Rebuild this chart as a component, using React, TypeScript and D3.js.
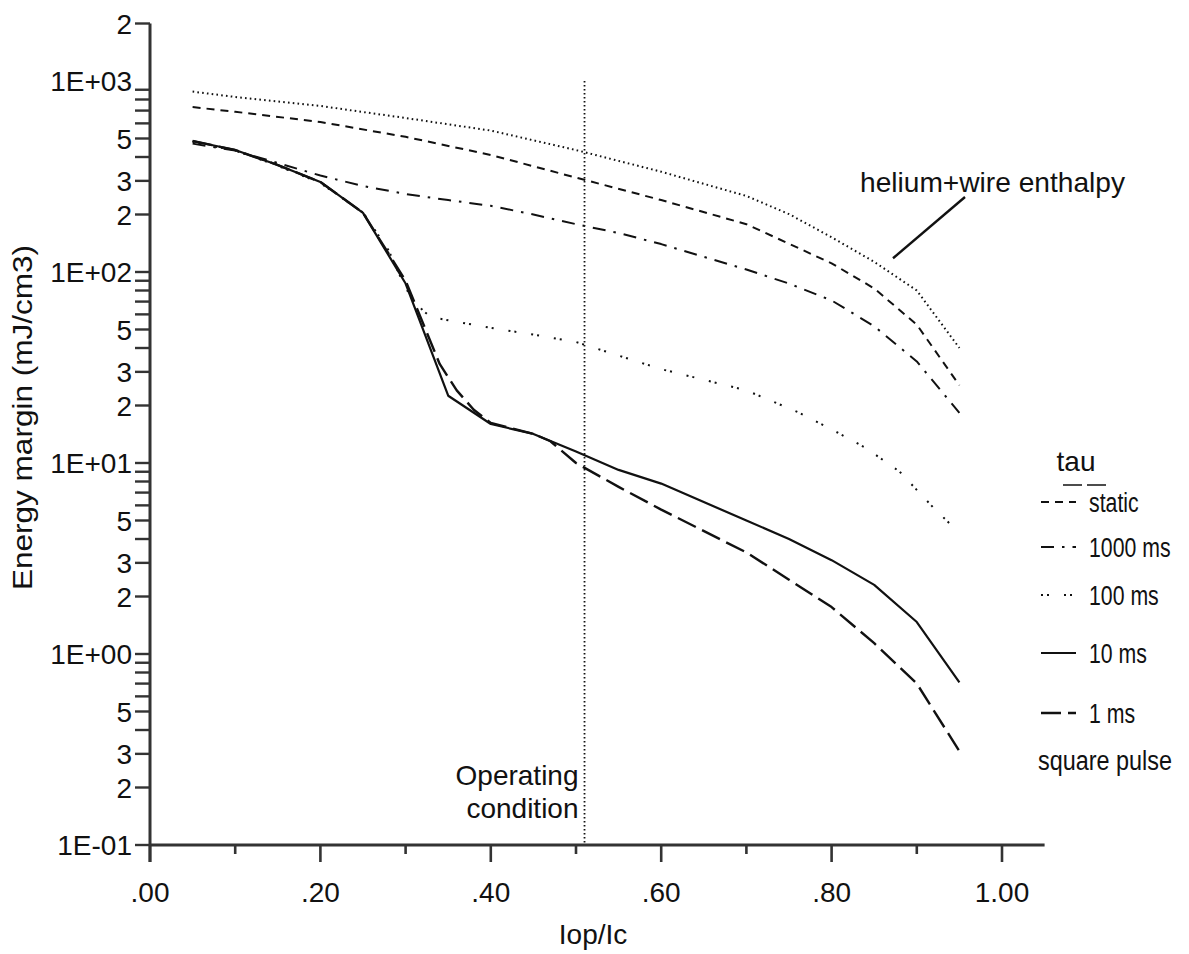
import React from "react";
import * as d3 from "d3";

// ---- data ----
const xHelium = [0.05, 0.1, 0.2, 0.3, 0.4, 0.5, 0.6, 0.7, 0.75, 0.8, 0.85, 0.9, 0.95];
const yHelium = [880, 825, 740, 640, 550, 435, 335, 250, 201, 152, 113, 80, 40];

const xStatic = [0.05, 0.1, 0.2, 0.3, 0.4, 0.5, 0.6, 0.7, 0.8, 0.85, 0.9, 0.95];
const yStatic = [730, 690, 610, 510, 410, 312, 238, 178, 111, 82, 53, 25.5];

const x1000 = [0.05, 0.1, 0.15, 0.2, 0.25, 0.3, 0.35, 0.4, 0.45, 0.5, 0.55, 0.6, 0.65, 0.7, 0.75, 0.8, 0.85, 0.9, 0.95];
const y1000 = [470, 432, 372, 320, 282, 256, 238, 222, 200, 178, 160, 140, 120, 103, 87, 71, 52, 34, 18.3];

const x100 = [0.05, 0.1, 0.15, 0.2, 0.25, 0.28, 0.3, 0.32, 0.33, 0.4, 0.45, 0.5, 0.6, 0.7, 0.76, 0.8, 0.84, 0.88, 0.92, 0.95];
const y100 = [480, 432, 360, 292, 205, 130, 82, 63, 58, 51, 47, 43, 31, 24, 18.5, 15, 12, 9, 5.8, 4.3];

const x10 = [0.05, 0.1, 0.15, 0.2, 0.25, 0.3, 0.35, 0.4, 0.45, 0.5, 0.55, 0.6, 0.7, 0.75, 0.8, 0.85, 0.9, 0.95];
const y10 = [485, 435, 363, 296, 204, 87, 22.5, 16, 14.2, 11.5, 9.2, 7.8, 5.0, 4.0, 3.1, 2.3, 1.47, 0.71];

const x1 = [0.05, 0.1, 0.15, 0.2, 0.25, 0.3, 0.34, 0.36, 0.38, 0.4, 0.45, 0.47, 0.5, 0.55, 0.6, 0.7, 0.75, 0.8, 0.85, 0.9, 0.95];
const y1 = [485, 435, 363, 296, 204, 90, 33, 24, 19, 16.2, 14.2, 13, 10, 7.5, 5.7, 3.4, 2.45, 1.76, 1.14, 0.7, 0.31];

const xTicks = [0, 0.2, 0.4, 0.6, 0.8, 1.0];
const xTickLabels = [".00", ".20", ".40", ".60", ".80", "1.00"];
const xMinorTicks = [0.1, 0.3, 0.5, 0.7, 0.9];
const yLabelTicks = [2000, 1000, 500, 300, 200, 100, 50, 30, 20, 10, 5, 3, 2, 1, 0.5, 0.3, 0.2, 0.1];
const yTickLabels = ["2", "1E+03", "5", "3", "2", "1E+02", "5", "3", "2", "1E+01", "5", "3", "2", "1E+00", "5", "3", "2", "1E-01"];

const operatingX = 0.51;

const legendNames = ["static", "1000 ms", "100 ms", "10 ms", "1 ms"];

const FONT = "'Liberation Sans', Arial, Helvetica, sans-serif";

const styles: Record<string, { dash: string; width: number }> = {
  helium: { dash: "1.6 3.2", width: 2 },
  static: { dash: "8 6", width: 2 },
  "1000 ms": { dash: "13 8 2.5 8", width: 2 },
  "100 ms": { dash: "2 4 2 15", width: 2 },
  "10 ms": { dash: "", width: 2.2 },
  "1 ms": { dash: "20 7", width: 2.4 },
};

export default function App() {
  const W = 1189, H = 954;
  const x = d3.scaleLinear().domain([0, 1]).range([150, 1002]);
  const y = d3.scaleLog().domain([0.1, 2000]).range([845, 23.5]);

  const line = d3.line<[number, number]>().x(d => x(d[0])).y(d => y(d[1]));
  const zip = (a: number[], b: number[]) => a.map((v, i) => [v, b[i]] as [number, number]);

  const series = [
    { key: "helium", d: zip(xHelium, yHelium) },
    { key: "static", d: zip(xStatic, yStatic) },
    { key: "1000 ms", d: zip(x1000, y1000) },
    { key: "100 ms", d: zip(x100, y100) },
    { key: "10 ms", d: zip(x10, y10) },
    { key: "1 ms", d: zip(x1, y1) },
  ];

  const minorY: number[] = [];
  for (let e = -1; e <= 2; e++) {
    for (let m = 1; m <= 9; m++) {
      const v = m * Math.pow(10, e);
      if (v >= 0.1 && v <= 1000) minorY.push(v);
    }
  }
  minorY.push(2000);

  const axisColor = "#333";
  const xAxisY = y(0.1);
  const yAxisX = x(0);

  const legendX0 = 1041, legendX1 = 1076, legendTextX = 1089;
  const legendYs = [502, 547, 595, 653, 713];

  return (
    <svg width={W} height={H} style={{ display: "block", position: "absolute", left: 0, top: 0 }} fontFamily={FONT}>
      <rect width={W} height={H} fill="#fff" />
      {/* Y axis */}
      <line x1={yAxisX} x2={yAxisX} y1={y(2000)} y2={xAxisY + 17} stroke={axisColor} strokeWidth={3} />
      {minorY.map((v, i) => (
        <line key={"ym" + i} x1={yAxisX - 15} x2={yAxisX} y1={y(v)} y2={y(v)} stroke={axisColor} strokeWidth={2.4} />
      ))}
      {yLabelTicks.map((v, i) => (
        <text key={"yl" + i} x={yAxisX - 18} y={y(v)} dy="0.36em" textAnchor="end" fontSize={28} fill="#111">
          {yTickLabels[i]}
        </text>
      ))}
      {/* X axis */}
      <line x1={yAxisX} x2={x(1.05)} y1={xAxisY} y2={xAxisY} stroke={axisColor} strokeWidth={3} />
      {xTicks.map((v, i) => (
        <g key={"xt" + i}>
          <line x1={x(v)} x2={x(v)} y1={xAxisY} y2={xAxisY + 17} stroke={axisColor} strokeWidth={2.6} />
          <text x={x(v)} y={xAxisY + 57} textAnchor="middle" fontSize={28} fill="#111">{xTickLabels[i]}</text>
        </g>
      ))}
      {xMinorTicks.map((v, i) => (
        <line key={"xm" + i} x1={x(v)} x2={x(v)} y1={xAxisY} y2={xAxisY + 9} stroke={axisColor} strokeWidth={2.6} />
      ))}
      <text x={x(0.52)} y={944} textAnchor="middle" fontSize={28} fill="#111">Iop/Ic</text>
      <text transform={`translate(32, ${y(20) + 12}) rotate(-90)`} textAnchor="middle" fontSize={28} fill="#111"
        textLength={345} lengthAdjust="spacingAndGlyphs">
        Energy margin (mJ/cm3)
      </text>

      {/* operating condition line */}
      <line x1={x(operatingX)} x2={x(operatingX)} y1={y(1000)} y2={xAxisY} stroke="#111" strokeWidth={1.8} strokeDasharray="1.5 2.5" />
      <text x={x(operatingX) - 6} y={785} textAnchor="end" fontSize={28} fill="#111">Operating</text>
      <text x={x(operatingX) - 6} y={818} textAnchor="end" fontSize={28} fill="#111">condition</text>

      {/* curves */}
      {series.map(s => (
        <path key={s.key} d={line(s.d) || ""} fill="none" stroke="#111" strokeWidth={styles[s.key].width}
          strokeDasharray={styles[s.key].dash} strokeLinejoin="round" />
      ))}

      {/* helium annotation */}
      <text x={860} y={192} fontSize={28} fill="#111" textLength={265} lengthAdjust="spacingAndGlyphs">helium+wire enthalpy</text>
      <line x1={965} x2={893} y1={y(247)} y2={y(118)} stroke="#111" strokeWidth={2.4} />

      {/* legend */}
      <text x={1076} y={471} textAnchor="middle" fontSize={28} fill="#111">tau</text>
      <line x1={1063} x2={1082} y1={485} y2={485} stroke="#111" strokeWidth={1.5} />
      <line x1={1087} x2={1106} y1={485} y2={485} stroke="#111" strokeWidth={1.5} />
      {legendNames.map((n, i) => (
        <g key={"lg" + i}>
          <line x1={legendX0} x2={legendX1} y1={legendYs[i]} y2={legendYs[i]} stroke="#111" strokeWidth={styles[n].width}
            strokeDasharray={styles[n].dash} />
          <text transform={`translate(${legendTextX}, ${legendYs[i]}) scale(0.76, 1)`} dy="0.36em" fontSize={28} fill="#111">{n}</text>
        </g>
      ))}
      <text transform="translate(1038, 770) scale(0.836, 1)" fontSize={28} fill="#111">square pulse</text>
    </svg>
  );
}
